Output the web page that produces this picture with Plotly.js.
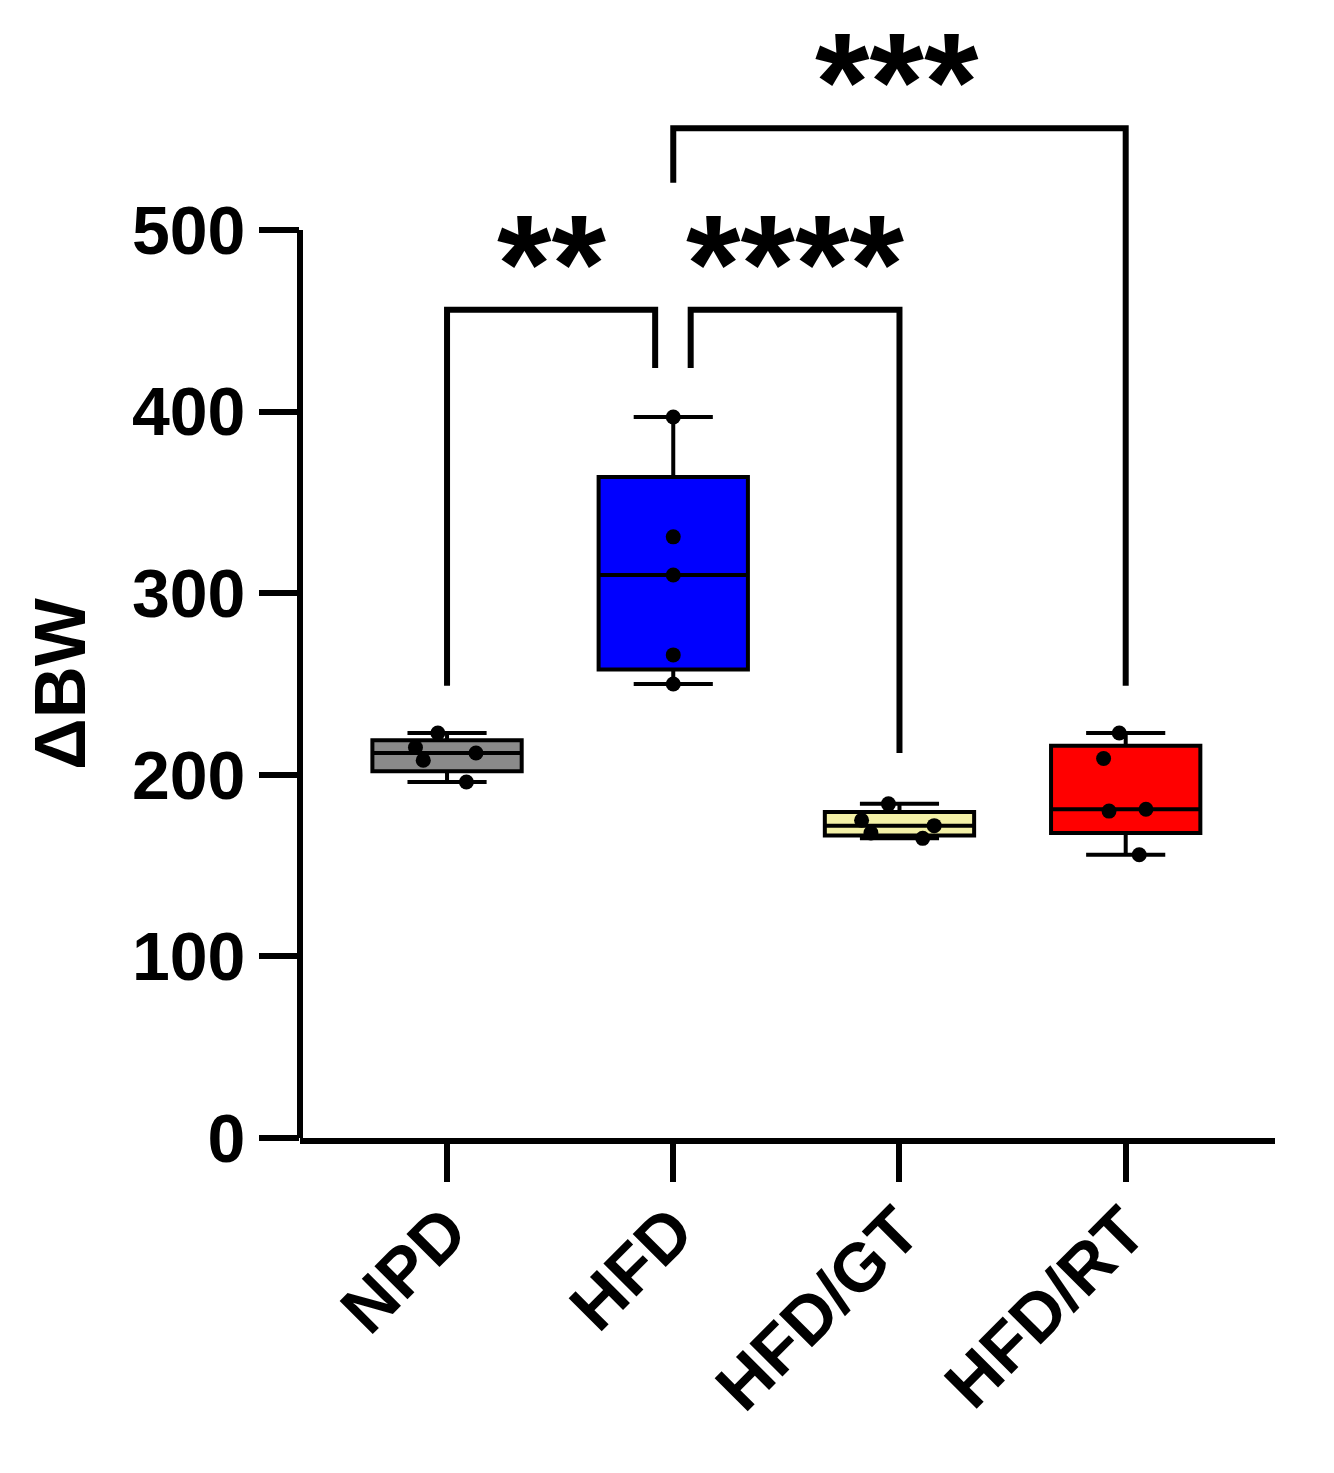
<!DOCTYPE html>
<html>
<head>
<meta charset="utf-8">
<script src="https://cdn.plot.ly/plotly-3.0.1.min.js"></script>
<style>html,body{margin:0;padding:0;background:#fff;}</style>
</head>
<body>
<div id="chart" style="width:1334px;height:1473px;"></div>
<script>
// ---- data ----
const categories = ['NPD', 'HFD', 'HFD/GT', 'HFD/RT'];
const npdValues = [196, 208, 212, 215, 223];
const hfdValues = [250, 266, 310, 331, 397];
const gtValues = [165, 168, 172, 175, 184];
const rtValues = [156, 180, 181, 209, 223];
const yTickValues = [0, 100, 200, 300, 400, 500];
const yTitle = 'ΔBW';
const sigLabels = ['**', '****', '***'];
// comparison brackets: [leftX, leftBottom, top, rightX, rightBottom]
const brackets = [
  [0, 249, 456, 0.92, 424],
  [1.077, 424, 456, 2, 212],
  [1, 526, 556, 3, 249]
];
const sigPos = [[0.46, 481.5], [1.54, 481.5], [1.99, 582]];

const groups = [npdValues, hfdValues, gtValues, rtValues];
const fills = ['#8a8a8a', '#0000ff', '#f3f0a6', '#ff0000'];
const jitters = [0.5, 0, 0.6, 0.35];

const FONT = 'Liberation Sans, Arial, Helvetica, sans-serif';

const traces = groups.map((vals, i) => ({
  type: 'box',
  x: vals.map(() => categories[i]),
  y: vals,
  name: categories[i],
  boxpoints: 'all',
  jitter: jitters[i],
  pointpos: 0,
  quartilemethod: 'exclusive',
  width: 0.66,
  whiskerwidth: 0.53,
  fillcolor: fills[i],
  line: {color: '#000000', width: 4},
  marker: {color: '#000000', size: 15},
  showlegend: false,
  hoverinfo: 'y'
}));

const shapes = [];
// y axis line from 0 to 500
shapes.push({type: 'line', xref: 'paper', yref: 'y', x0: 0, x1: 0, y0: 0, y1: 500,
  line: {color: '#000', width: 6}, layer: 'above'});
brackets.forEach(b => {
  shapes.push({
    type: 'path', xref: 'x', yref: 'y', layer: 'above',
    path: `M ${b[0]},${b[1]} L ${b[0]},${b[2]} L ${b[3]},${b[2]} L ${b[3]},${b[4]}`,
    line: {color: '#000', width: 6}
  });
});

const annotations = sigLabels.map((t, i) => ({
  text: t, xref: 'x', yref: 'y', x: sigPos[i][0], y: sigPos[i][1],
  showarrow: false, xanchor: 'center', yanchor: 'middle',
  font: {family: FONT, size: 140, color: '#000', weight: 'bold'}
}));
annotations.push({
  text: yTitle, xref: 'paper', yref: 'y', x: -0.246, y: 250, textangle: -90,
  showarrow: false, xanchor: 'center', yanchor: 'middle',
  font: {family: FONT, size: 72, color: '#000', weight: 'bold'}
});

const layout = {
  width: 1334, height: 1473,
  margin: {l: 300, r: 59, t: 12, b: 335},
  paper_bgcolor: '#ffffff', plot_bgcolor: '#ffffff',
  boxmode: 'overlay',
  showlegend: false,
  font: {family: FONT, color: '#000'},
  xaxis: {
    type: 'category',
    categoryarray: categories, categoryorder: 'array',
    range: [-0.65, 3.66],
    showline: true, linecolor: '#000', linewidth: 6,
    ticks: 'outside', ticklen: 38, tickwidth: 6, tickcolor: '#000',
    tickangle: -45,
    ticklabelstandoff: -18,
    tickfont: {family: FONT, size: 68, color: '#000', weight: 'bold'},
    showgrid: false, zeroline: false, fixedrange: true
  },
  yaxis: {
    range: [0, 620],
    tickmode: 'array', tickvals: yTickValues, ticktext: yTickValues.map(String),
    showline: false,
    ticks: 'outside', ticklen: 40, tickwidth: 6, tickcolor: '#000',
    tickfont: {family: FONT, size: 68, color: '#000', weight: 'bold'},
    showgrid: false, zeroline: false, fixedrange: true
  },
  shapes: shapes,
  annotations: annotations
};

Plotly.newPlot('chart', traces, layout, {displayModeBar: false, staticPlot: true});
</script>
</body>
</html>
